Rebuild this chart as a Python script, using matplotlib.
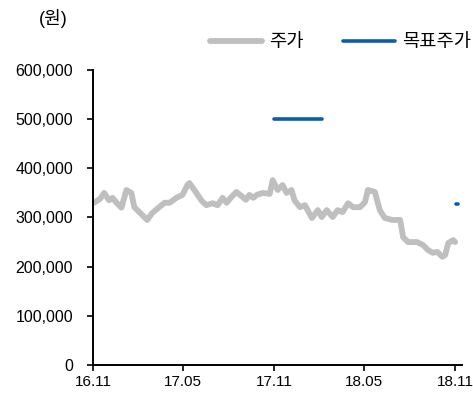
import numpy as np
import pandas as pd
import matplotlib
matplotlib.use('Agg')
import matplotlib.pyplot as plt

plt.rcParams['font.family'] = ['Liberation Sans', 'Noto Sans CJK KR']

# Stock price (원)
price_dates = [
    '2016-11-03', '2016-11-15', '2016-11-23', '2016-12-03', '2016-12-10', '2016-12-18', '2016-12-28',
    '2017-01-07', '2017-01-17', '2017-01-23', '2017-02-02', '2017-02-18',
    '2017-02-28', '2017-03-14', '2017-03-25', '2017-04-04', '2017-04-18',
    '2017-04-30', '2017-05-10', '2017-05-14', '2017-05-24', '2017-06-07',
    '2017-06-17', '2017-06-30', '2017-07-10', '2017-07-20', '2017-07-28',
    '2017-08-07', '2017-08-17', '2017-08-29', '2017-09-05', '2017-09-12', '2017-09-20', '2017-09-27',
    '2017-10-09', '2017-10-23', '2017-10-29', '2017-11-08', '2017-11-18',
    '2017-11-26', '2017-12-06', '2017-12-12', '2017-12-23', '2018-01-02',
    '2018-01-16', '2018-01-28', '2018-02-05', '2018-02-15', '2018-02-27',
    '2018-03-09', '2018-03-19', '2018-03-30', '2018-04-09', '2018-04-23',
    '2018-05-03', '2018-05-09', '2018-05-23', '2018-06-02', '2018-06-12',
    '2018-06-27', '2018-07-13', '2018-07-19', '2018-07-29', '2018-08-16',
    '2018-08-28', '2018-09-07', '2018-09-17', '2018-09-26', '2018-10-06',
    '2018-10-12', '2018-10-18', '2018-10-28', '2018-11-01',
]
price_values = [
    330000, 338000, 350000, 335000, 340000, 330000, 320000,
    356000, 350000, 321000, 311000, 295000,
    309000, 321000, 330000, 330000, 340000,
    346000, 366000, 370000, 356000, 335000,
    325000, 329000, 325000, 340000, 330000,
    342000, 352000, 342000, 336000, 346000, 340000, 346000,
    350000, 348000, 376000, 356000, 366000,
    350000, 356000, 335000, 321000, 325000,
    299000, 315000, 301000, 315000, 301000,
    315000, 311000, 329000, 321000, 321000,
    331000, 356000, 352000, 315000, 299000,
    295000, 295000, 260000, 250000, 250000,
    244000, 234000, 228000, 230000, 220000,
    224000, 248000, 254000, 250000,
]

# Target price (원)
target_segments = [
    (['2017-11-01', '2018-02-05'], [500000, 500000]),
    (['2018-11-02', '2018-11-06'], [328000, 328000]),
]

xtick_dates = ['2016-11-01', '2017-05-01', '2017-11-01', '2018-05-01', '2018-11-01']
xtick_labels = ['16.11', '17.05', '17.11', '18.05', '18.11']
yticks = [0, 100000, 200000, 300000, 400000, 500000, 600000]

gray = '#BFBFBF'
blue = '#0B5CAD'

fig = plt.figure(figsize=(4.73, 4.05), dpi=100)
ax = fig.add_axes([0.197, 0.099, 0.780, 0.728])

ax.plot(pd.to_datetime(price_dates), price_values, color=gray, lw=4.2,
        solid_joinstyle='round', solid_capstyle='round', label='주가')
for i, (d, v) in enumerate(target_segments):
    ax.plot(pd.to_datetime(d), v, color=blue, lw=2.6, solid_capstyle='round',
            label='목표주가' if i == 0 else None)

ax.set_xlim(pd.Timestamp('2016-11-01'), pd.Timestamp('2018-11-15'))
ax.set_ylim(0, 600000)
ax.set_xticks(pd.to_datetime(xtick_dates))
ax.set_xticklabels(xtick_labels)
ax.set_yticks(yticks)
ax.set_yticklabels([f'{v:,}' for v in yticks])

for s in ['top', 'right']:
    ax.spines[s].set_visible(False)
for s in ['left', 'bottom']:
    ax.spines[s].set_linewidth(1.4)
ax.tick_params(axis='both', direction='out', length=4.5, width=1.2, labelsize=11.5)
ax.tick_params(axis='x', labelsize=11)
ax.tick_params(axis='y', pad=10)
ax.tick_params(axis='x', pad=3)

fig.text(0.112, 0.955, '(원)', ha='center', va='center', fontsize=13)

fig.legend(loc='center right', bbox_to_anchor=(0.995, 0.894), ncol=2, frameon=False,
           fontsize=13.5, handlelength=2.8, handletextpad=0.35, columnspacing=2.1,
           borderpad=0, borderaxespad=0)

fig.savefig('out.png', dpi=100)
